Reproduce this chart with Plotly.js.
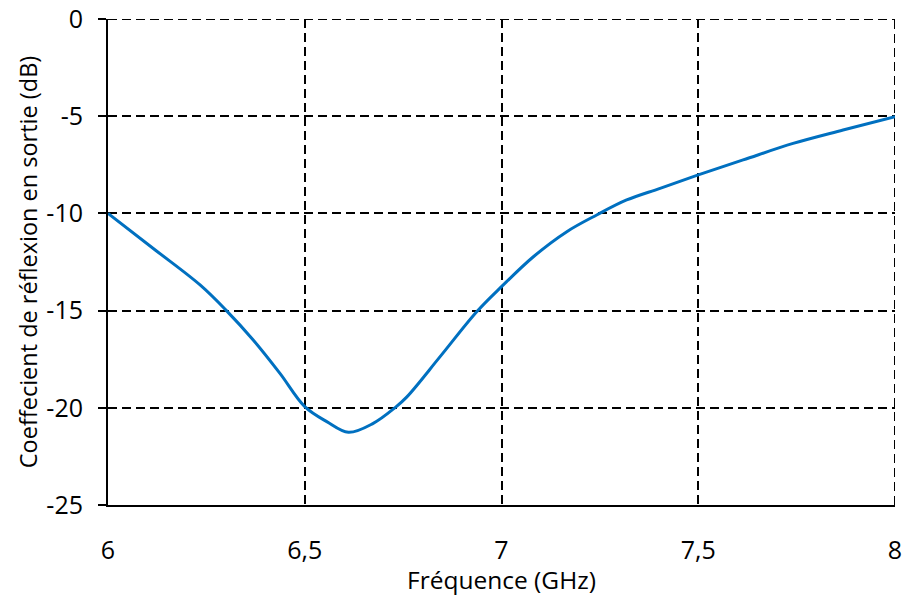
<!DOCTYPE html>
<html>
<head>
<meta charset="utf-8">
<script src="https://cdn.plot.ly/plotly-3.0.1.min.js"></script>
<style>html,body{margin:0;padding:0;background:#fff;}#chart{width:907px;height:596px;}</style>
</head>
<body>
<div id="chart"></div>
<script>
const freqGHz = [6, 6.12, 6.234, 6.301, 6.369, 6.437, 6.5, 6.556, 6.611, 6.674, 6.729, 6.759, 6.844, 6.937, 7.0, 7.081, 7.166, 7.242, 7.318, 7.403, 7.5, 7.614, 7.741, 7.868, 8];
const s22dB  = [-10, -11.88, -13.68, -15.0, -16.51, -18.23, -19.94, -20.71, -21.26, -20.80, -20.0, -19.45, -17.37, -15.06, -13.77, -12.23, -10.94, -10.08, -9.31, -8.71, -8.02, -7.25, -6.40, -5.71, -5.02];
const xTickVals = [6, 6.5, 7, 7.5, 8];
const xTickText = ["6", "6,5", "7", "7,5", "8"];
const yTickVals = [0, -5, -10, -15, -20, -25];
const yTickText = ["0", "-5", "-10", "-15", "-20", "-25"];

const font = "Open Sans, Noto Sans, sans-serif";
const gridDash = "9px,5px";
Plotly.newPlot("chart", [{
  x: freqGHz, y: s22dB, type: "scatter", mode: "lines",
  line: {color: "#0070C0", width: 3, shape: "spline", smoothing: 1},
  hoverinfo: "skip"
}], {
  width: 907, height: 596,
  margin: {l: 108, r: 12, t: 19, b: 91},
  paper_bgcolor: "#fff", plot_bgcolor: "#fff",
  showlegend: false,
  font: {family: font, size: 24, color: "#000"},
  shapes: [
    {type: "line", xref: "paper", x0: 0, x1: 1, yref: "y", y0: yTickVals[0], y1: yTickVals[0],
     line: {color: "#000", width: 2, dash: gridDash}, layer: "below"},
    {type: "line", yref: "paper", y0: 0, y1: 1, xref: "x", x0: xTickVals[4], x1: xTickVals[4],
     line: {color: "#000", width: 2, dash: gridDash}, layer: "below"}
  ],
  xaxis: {
    range: [6, 8], tickvals: xTickVals, ticktext: xTickText,
    showgrid: true, gridcolor: "#000", gridwidth: 2, griddash: gridDash,
    zeroline: false, showline: true, linecolor: "#000", linewidth: 2,
    ticks: "", ticklabelstandoff: 22,
    tickfont: {family: font, size: 25, color: "#000"},
    title: {text: "Fréquence (GHz)", font: {family: font, size: 24.5, color: "#000"}, standoff: 0}
  },
  yaxis: {
    range: [-25, 0], tickvals: yTickVals, ticktext: yTickText,
    showgrid: true, gridcolor: "#000", gridwidth: 2, griddash: gridDash,
    zeroline: false, showline: true, linecolor: "#000", linewidth: 2,
    ticks: "outside", ticklen: 8, tickwidth: 2, tickcolor: "#000",
    ticklabelstandoff: 10,
    tickfont: {family: font, size: 25, color: "#000"},
    title: {text: "Coeffecient de réflexion en sortie (dB)", font: {family: font, size: 23.5, color: "#000"}, standoff: 2}
  }
}, {displayModeBar: false, staticPlot: true});
</script>
</body>
</html>
